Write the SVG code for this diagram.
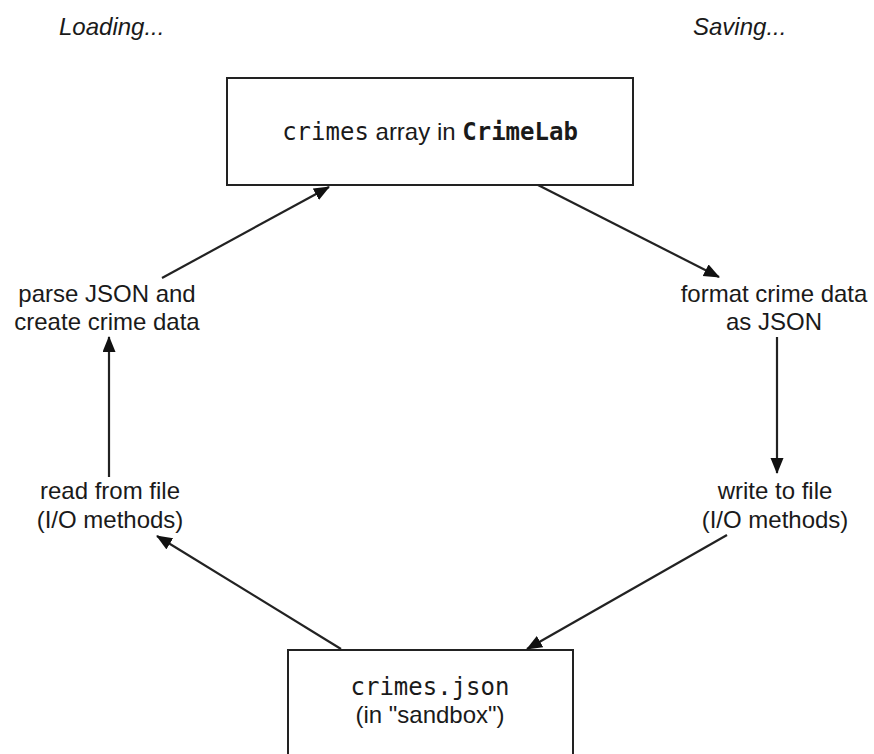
<svg xmlns="http://www.w3.org/2000/svg" width="874" height="754" viewBox="0 0 874 754">
<style>
.box{fill:#fff;stroke:#222;stroke-width:2}
.lbl{font-family:"Liberation Sans",Arial,sans-serif;font-size:24px;fill:#1a1a1a;text-anchor:middle}
.ital{font-family:"Liberation Sans",Arial,sans-serif;font-size:24px;font-style:italic;fill:#1a1a1a}
.mono{font-family:"DejaVu Sans Mono",monospace}
.edge{stroke:#222;stroke-width:2.2;fill:none;marker-end:url(#ah)}
</style>
<defs>
<marker id="ah" markerUnits="userSpaceOnUse" markerWidth="16" markerHeight="14" refX="15" refY="6.5" orient="auto">
<path d="M0,0 L16,6.5 L0,13 z" fill="#111"/>
</marker>
</defs>
<rect width="874" height="754" fill="#fff"/>
<text class="ital" x="59" y="35">Loading...</text>
<text class="ital" x="693" y="35">Saving...</text>
<g id="crimelab">
<rect class="box" x="227" y="78" width="406" height="107"/>
<text class="lbl" x="430" y="140"><tspan class="mono">crimes</tspan> array in <tspan class="mono" font-weight="bold">CrimeLab</tspan></text>
</g>
<g id="format">
<text class="lbl" x="774" y="302">format crime data</text>
<text class="lbl" x="774" y="330">as JSON</text>
</g>
<g id="write">
<text class="lbl" x="775" y="499">write to file</text>
<text class="lbl" x="775" y="528">(I/O methods)</text>
</g>
<g id="file">
<rect class="box" x="288" y="650" width="285" height="110"/>
<text class="lbl mono" x="430" y="695">crimes.json</text>
<text class="lbl" x="430" y="723">(in "sandbox")</text>
</g>
<g id="read">
<text class="lbl" x="110" y="499">read from file</text>
<text class="lbl" x="110" y="528">(I/O methods)</text>
</g>
<g id="parse">
<text class="lbl" x="107" y="302">parse JSON and</text>
<text class="lbl" x="107" y="330">create crime data</text>
</g>
<g id="connectors">
<line class="edge" x1="162" y1="278" x2="329" y2="187"/>
<line class="edge" x1="538" y1="185" x2="719" y2="277"/>
<line class="edge" x1="777" y1="337" x2="777" y2="473"/>
<line class="edge" x1="727" y1="535" x2="527" y2="649"/>
<line class="edge" x1="341" y1="649" x2="157" y2="536"/>
<line class="edge" x1="109" y1="477" x2="109" y2="337"/>
</g>
</svg>
